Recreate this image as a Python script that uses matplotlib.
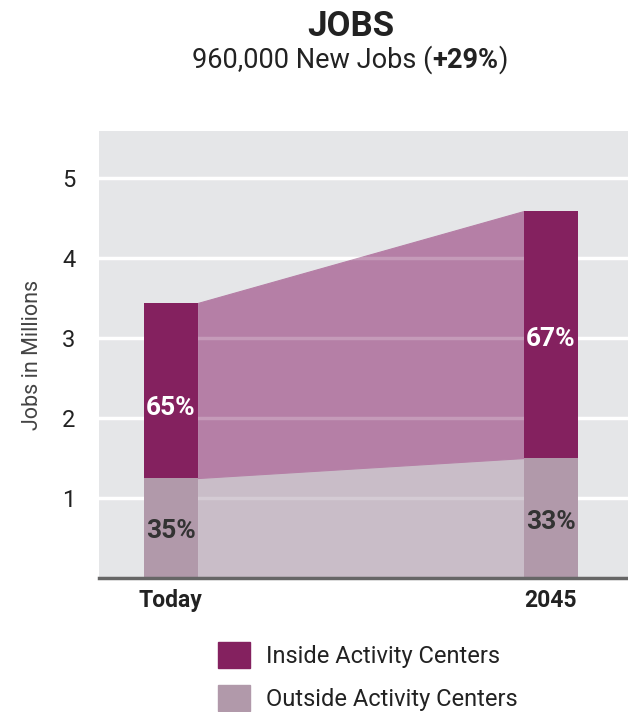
import matplotlib
matplotlib.use('Agg')
import matplotlib.pyplot as plt
from matplotlib.patches import Patch
from matplotlib.offsetbox import TextArea, HPacker, AnchoredOffsetbox

# data
periods = ['Today', '2045']
total_jobs = [3.44, 4.59]      # millions
outside_jobs = [1.25, 1.50]    # millions
inside_share = ['65%', '67%']
outside_share = ['35%', '33%']
yticks = [1, 2, 3, 4, 5]

inside_col = '#84215F'
outside_col = '#B199AA'
inside_band = '#B57FA6'
outside_band = '#C9BDC8'
bg = '#E5E6E8'
ink = '#222222'

plt.rcParams['font.family'] = ['Roboto', 'DejaVu Sans']

inside_jobs = [t - o for t, o in zip(total_jobs, outside_jobs)]
xpos = [0, 1]
w = 0.142

fig = plt.figure(figsize=(6.28, 7.12), dpi=100)
ax = fig.add_axes([99 / 628, 1 - 578 / 712, 1 - 99 / 628, (578 - 131) / 712])
ax.set_facecolor(bg)
ax.set_xlim(-0.189, 1.203)
ax.set_ylim(0, 5.59)

# shaded bands joining the two bars
bx = [xpos[0] + w / 2, xpos[1] - w / 2]
ax.fill_between(bx, 0, outside_jobs, facecolor=outside_band, edgecolor=outside_band,
                lw=0.8, zorder=1)
ax.fill_between(bx, outside_jobs, total_jobs, facecolor=inside_band, edgecolor=inside_band,
                lw=0.8, zorder=1)

for y in yticks:
    ax.axhline(y, color='white', lw=2.5, zorder=0.5)
    ax.plot(bx, [y, y], color='white', lw=2.5, alpha=0.22, zorder=1.5)

ax.bar(xpos, outside_jobs, width=w, color=outside_col, zorder=2)
ax.bar(xpos, inside_jobs, width=w, bottom=outside_jobs, color=inside_col, zorder=2)

# where the share labels sit inside each segment
in_pos = [0.40, 0.48]
for i in range(2):
    ax.text(xpos[i], outside_jobs[i] + inside_jobs[i] * in_pos[i], inside_share[i],
            ha='center', va='center', color='white', fontsize=19, fontweight='bold', zorder=3)
    ax.text(xpos[i], outside_jobs[i] * 0.47, outside_share[i],
            ha='center', va='center', color='#333333', fontsize=19, fontweight='bold', zorder=3)

for s in ['top', 'right', 'left']:
    ax.spines[s].set_visible(False)
ax.spines['bottom'].set_color('#666666')
ax.spines['bottom'].set_linewidth(2.5)

ax.set_yticks(yticks)
ax.set_yticklabels([str(v) for v in yticks], fontsize=17, color=ink)
ax.tick_params(axis='y', length=0, pad=17)
ax.set_xticks(xpos)
ax.set_xticklabels(periods, fontsize=16.5, fontweight='bold', color=ink)
ax.tick_params(axis='x', length=0, pad=8)
ax.set_ylabel('Jobs in Millions', fontsize=15.5, color='#444444', labelpad=14)

fig.text(351 / 628, 1 - 27 / 712, 'JOBS', ha='center', va='center',
         fontsize=25, fontweight='bold', color=ink)

# subtitle with the bold percentage
parts = [TextArea('960,000 New Jobs (', textprops=dict(fontsize=19.5, color=ink)),
         TextArea('+29%', textprops=dict(fontsize=19.5, color=ink, fontweight='bold')),
         TextArea(')', textprops=dict(fontsize=19.5, color=ink))]
box = HPacker(children=parts, align='baseline', pad=0, sep=0)
fig.add_artist(AnchoredOffsetbox(loc='center', child=box, frameon=False,
                                 bbox_to_anchor=(350 / 628, 1 - 60 / 712),
                                 bbox_transform=fig.transFigure, borderpad=0, pad=0))

handles = [Patch(color=inside_col), Patch(color=outside_col)]
fig.legend(handles, ['Inside Activity Centers', 'Outside Activity Centers'],
           loc='upper left', bbox_to_anchor=(206 / 628, 1 - 630 / 712),
           frameon=False, fontsize=17, handlelength=1.35, handleheight=1.35,
           handletextpad=0.7, labelspacing=0.7, borderpad=0, labelcolor=ink)

plt.savefig('out.png', dpi=100)
